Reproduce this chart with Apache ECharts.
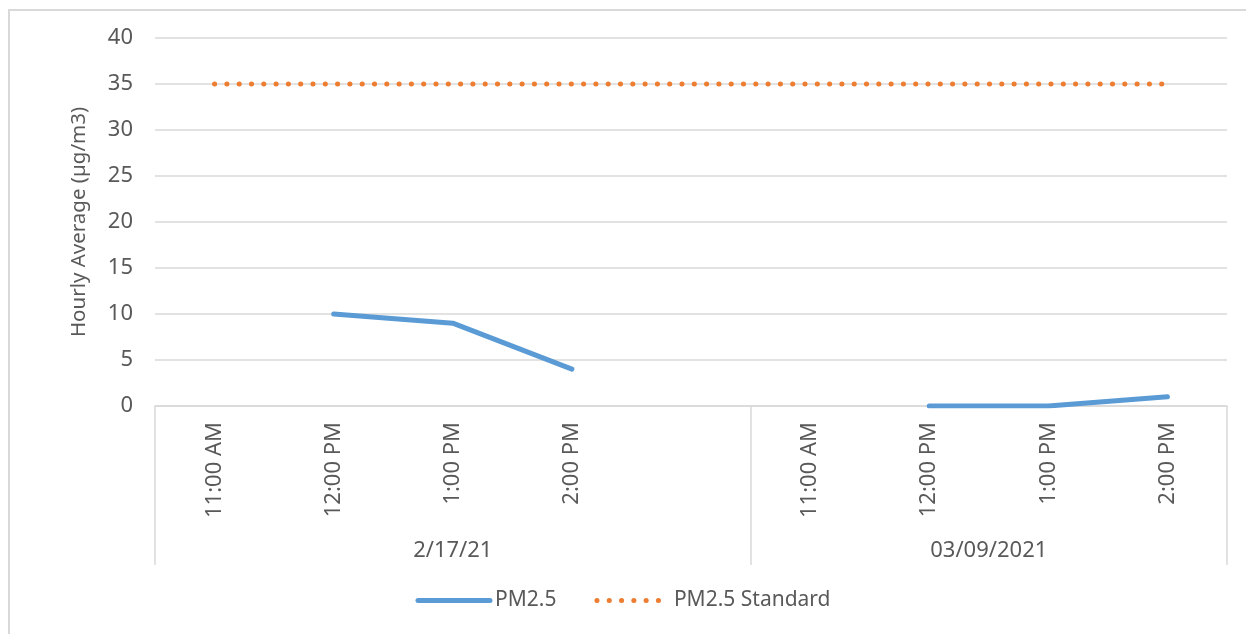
<!DOCTYPE html>
<html>
<head>
<meta charset="utf-8">
<script src="https://cdn.jsdelivr.net/npm/echarts@6/dist/echarts.min.js"></script>
<style>
  html, body { margin: 0; padding: 0; background: #fff; overflow: hidden; }
  #frame { position: absolute; left: 8px; top: 9px; width: 1300px; height: 700px; border: 2px solid #d9d9d9; box-sizing: border-box; }
  #chart { position: absolute; left: 0; top: 0; width: 1246px; height: 634px; }
</style>
</head>
<body>
<div id="frame"></div>
<div id="chart"></div>
<script>
// 两级横轴：日期分组 + 每组内的时刻
const dates = ['2/17/21', '03/09/2021'];
const times = ['11:00 AM', '12:00 PM', '1:00 PM', '2:00 PM', '', '11:00 AM', '12:00 PM', '1:00 PM', '2:00 PM'];
const groupSizes = [5, 4];          // 每个日期下的类别数
const pm25 = [null, 10, 9, 4, null, null, 0, 0, 1];
const pm25Standard = [35, 35, 35, 35, 35, 35, 35, 35, 35];
const yTicks = { min: 0, max: 40, interval: 5 };

const FONT = 'Noto Sans';
const FS = 22;
const TXT = '#595959';
const GRID = '#d9d9d9';
const BLUE = '#5b9bd5';
const ORANGE = '#ed7d31';

// 第二级轴用半格刻度（boundaryGap:false），组边界与组中心都落在整数索引上
const halfSlots = [];
const groupEdges = [0];
const groupCenters = {};
let acc = 0;
groupSizes.forEach((n, i) => {
  groupCenters[acc + n] = dates[i];
  acc += n * 2;
  groupEdges.push(acc);
});
for (let i = 0; i <= acc; i++) halfSlots.push(groupCenters[i] || '');

const blueLine = { color: BLUE, width: 5, cap: 'round', join: 'round' };
const dotLine = { color: ORANGE, width: 5, type: [0.1, 12.2], cap: 'round' };

const chart = echarts.init(document.getElementById('chart'));
chart.setOption({
  animation: false,
  textStyle: { fontFamily: FONT },
  grid: { left: 155, right: 19, top: 38, bottom: 228, containLabel: false },
  legend: {
    bottom: 18,
    left: 'center',
    itemWidth: 72,
    itemHeight: 14,
    itemGap: 38,
    textStyle: { color: TXT, fontSize: 21, fontFamily: FONT },
    data: [
      { name: 'PM2.5', itemStyle: { opacity: 0 }, lineStyle: blueLine },
      { name: 'PM2.5 Standard', itemStyle: { opacity: 0 }, lineStyle: dotLine },
    ],
  },
  xAxis: [
    {
      type: 'category',
      data: times,
      boundaryGap: true,
      axisLine: { lineStyle: { color: GRID, width: 1.5 } },
      axisTick: { show: false },
      axisLabel: { rotate: 90, margin: 16, color: TXT, fontSize: FS, fontFamily: FONT, interval: 0 },
    },
    {
      type: 'category',
      position: 'bottom',
      data: halfSlots,
      boundaryGap: false,
      axisLine: { show: false },
      axisTick: {
        show: true, length: 159, lineStyle: { color: GRID, width: 1.5 },
        interval: (idx) => groupEdges.includes(idx),
      },
      axisLabel: {
        margin: 134, color: TXT, fontSize: FS, fontFamily: FONT, verticalAlign: 'top',
        interval: (idx, val) => val !== '',
      },
    },
  ],
  yAxis: {
    type: 'value',
    min: yTicks.min, max: yTicks.max, interval: yTicks.interval,
    name: 'Hourly Average (µg/m3)',
    nameLocation: 'middle',
    nameGap: 65,
    nameTextStyle: { color: TXT, fontSize: 20.5, fontFamily: FONT },
    axisLine: { show: false },
    axisTick: { show: false },
    axisLabel: { color: TXT, fontSize: FS, fontFamily: FONT, margin: 22 },
    splitLine: { lineStyle: { color: GRID, width: 1.5 } },
  },
  series: [
    {
      name: 'PM2.5', type: 'line', data: pm25, symbol: 'none', connectNulls: false,
      itemStyle: { color: BLUE },
      lineStyle: blueLine,
    },
    {
      name: 'PM2.5 Standard', type: 'line', data: pm25Standard, symbol: 'none',
      itemStyle: { color: ORANGE },
      lineStyle: dotLine,
    },
  ],
});
</script>
</body>
</html>
